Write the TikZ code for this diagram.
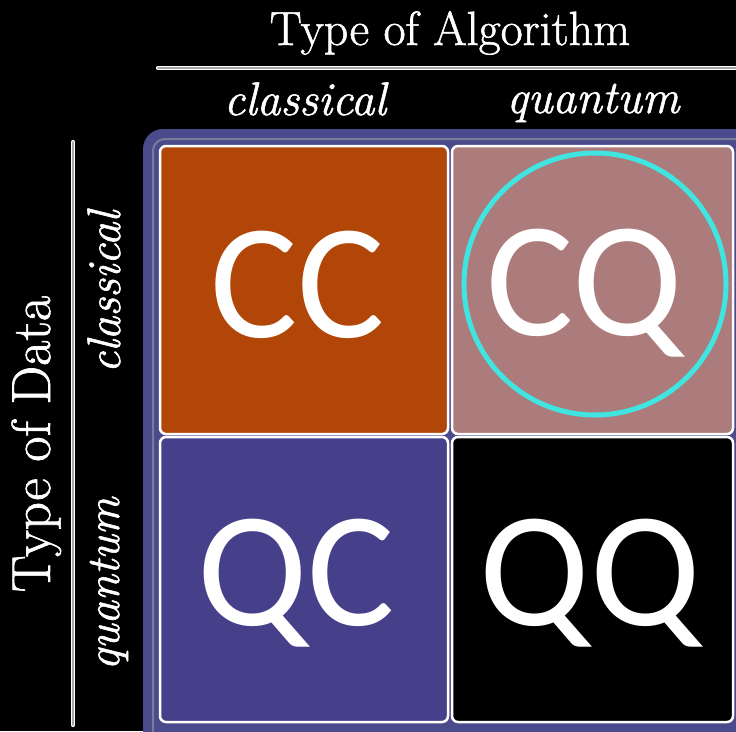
\documentclass[tikz,border=0pt]{standalone}
\usepackage{fontspec}
\newfontfamily\cellfont{Carlito}
\newfontfamily\heavylm[FakeBold=1.2]{Latin Modern Roman}
\definecolor{framec}{RGB}{75,74,140}
\definecolor{ringc}{RGB}{140,146,150}
\definecolor{ccc}{RGB}{178,70,8}
\definecolor{cqc}{RGB}{172,124,124}
\definecolor{qcc}{RGB}{70,64,138}
\definecolor{circc}{RGB}{64,228,224}
\begin{document}
\begin{tikzpicture}[x=1pt,y=-1pt,
  cellbox/.style={draw=white,line width=2.5pt,rounded corners=6pt},
  celltext/.style={text=white,anchor=base,inner sep=0pt,font=\cellfont\fontsize{164}{164}\selectfont},
  headtext/.style={text=white,anchor=base,inner sep=0pt,font=\heavylm\fontsize{48}{48}\selectfont},
  subtext/.style={text=white,anchor=base,inner sep=0pt,font=\heavylm\itshape\fontsize{47}{47}\selectfont},
  axisline/.style={draw=white,double=gray!70,double distance=1.6pt,line width=1.3pt,line cap=round}]
\fill[black] (0,0) rectangle (736,731);
\useasboundingbox (0,0) rectangle (736,731);
% frame
\fill[framec,rounded corners=20pt] (143,129) rectangle (770,770);
\draw[ringc!70!framec,line width=2pt,rounded corners=12pt] (153,139) rectangle (760,760);
% cells
\filldraw[cellbox,fill=ccc] (160,146) rectangle (448,434);
\filldraw[cellbox,fill=cqc] (452,146) rectangle (733,434);
\filldraw[cellbox,fill=qcc] (160,437) rectangle (448,722);
\filldraw[cellbox,fill=black] (452,437) rectangle (733,722);
% circle
\draw[circc,line width=5pt] (595,284) circle (131);
% cell texts
\node[celltext] (cc) at (298,337) {CC};
\node[celltext] (cq) at (585,335) {CQ};
\node[celltext] (qc) at (296,625) {QC};
\node[celltext] (qq) at (590,625) {QQ};
% headers
\node[headtext] (alg) at (450,45) {Type of Algorithm};
\node[subtext] (hc) at (305,115) {classical};
\node[subtext] (hq) at (593,113) {quantum};
\node[headtext,rotate=90,font=\heavylm\fontsize{55}{55}\selectfont] (dat) at (50,444) {Type of Data};
\node[subtext,rotate=90] (vc) at (120,292) {classical};
\node[subtext,rotate=90] (vq) at (119,584) {quantum};
% axis lines
\coordinate (hl1) at (158,68);
\coordinate (hl2) at (745,68);
\coordinate (vl1) at (73,142);
\coordinate (vl2) at (73,725);
\draw[axisline] (hl1) -- (hl2);
\draw[axisline] (vl1) -- (vl2);
\end{tikzpicture}
\end{document}
